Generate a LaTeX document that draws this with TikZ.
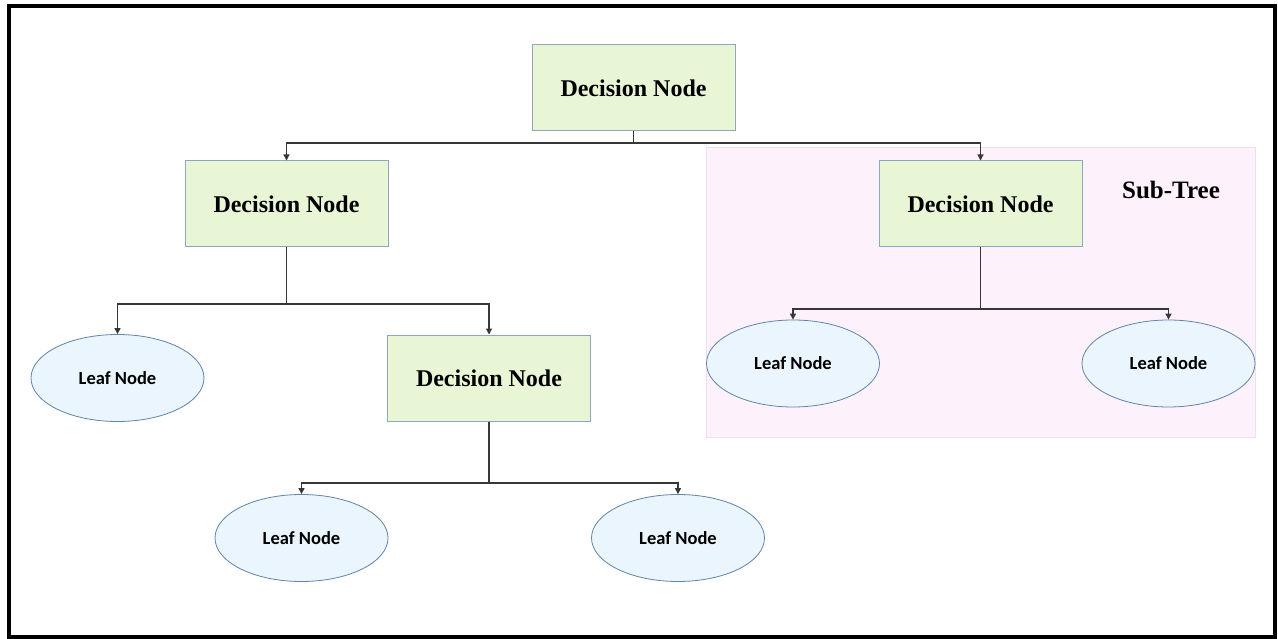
\documentclass[tikz,border=0pt]{standalone}
\usepackage{fontspec}
\setmainfont{Liberation Serif}
\newfontfamily\leaffont{Carlito}
\usetikzlibrary{shapes.geometric,arrows.meta}
\definecolor{decfill}{RGB}{232,246,214}
\definecolor{decline}{RGB}{142,166,190}
\definecolor{leaffill}{RGB}{235,245,253}
\definecolor{leafline}{RGB}{96,132,170}
\definecolor{subfill}{RGB}{253,241,252}
\definecolor{subline}{RGB}{240,224,238}
\definecolor{conn}{RGB}{55,55,55}
\tikzset{
  decbox/.style={draw=decline, fill=decfill, line width=1pt, minimum width=203pt, minimum height=86pt, inner sep=0pt, font=\fontsize{24}{28}\selectfont\bfseries},
  leafbox/.style={ellipse, draw=leafline, fill=leaffill, line width=0.8pt, minimum width=173pt, minimum height=87pt, inner sep=0pt, font=\leaffont\fontsize{18.5}{22}\selectfont\bfseries},
  conline/.style={draw=conn, line width=1.1pt},
  conarrow/.style={conline, -{Triangle[length=6pt,width=6pt]}}
}
\begin{document}
\begin{tikzpicture}[x=1pt,y=-1pt]
\useasboundingbox (0,0) rectangle (1278,639);
\fill[white] (0,0) rectangle (1278,639);
\draw[line width=4pt, black] (9,6) rectangle (1275,637);
% subtree region
\node[draw=subline, fill=subfill, line width=0.8pt, minimum width=549pt, minimum height=290pt, inner sep=0pt] (sub) at (980.5,292) {};
\node[font=\fontsize{25}{29}\selectfont\bfseries] (sublabel) at (1171,190) {Sub-Tree};
% decision nodes
\node[decbox] (d0) at (633.5,88) {Decision Node};
\node[decbox] (d1) at (286.5,204) {Decision Node};
\node[decbox] (d2) at (980.5,204) {Decision Node};
\node[decbox] (d3) at (489,378) {Decision Node};
% leaves
\node[leafbox] (l1) at (117.5,378) {Leaf Node};
\node[leafbox] (l2) at (301.5,538) {Leaf Node};
\node[leafbox] (l3) at (678,538) {Leaf Node};
\node[leafbox] (l4) at (793,363.5) {Leaf Node};
\node[leafbox] (l5) at (1168.5,363.5) {Leaf Node};
% junctions
\coordinate (j0) at (633.5,143);
\coordinate (j1) at (286.5,304);
\coordinate (j3) at (489,483);
\coordinate (j2) at (980.5,309);
% connectors
\draw[conline] (d0.south) -- (j0);
\draw[conarrow] (j0) -| (d1.north);
\draw[conarrow] (j0) -| (d2.north);
\draw[conline] (d1.south) -- (j1);
\draw[conarrow] (j1) -| (l1.north);
\draw[conarrow] (j1) -| (d3.north);
\draw[conline] (d3.south) -- (j3);
\draw[conarrow] (j3) -| (l2.north);
\draw[conarrow] (j3) -| (l3.north);
\draw[conline] (d2.south) -- (j2);
\draw[conarrow] (j2) -| (l4.north);
\draw[conarrow] (j2) -| (l5.north);
\end{tikzpicture}
\end{document}
